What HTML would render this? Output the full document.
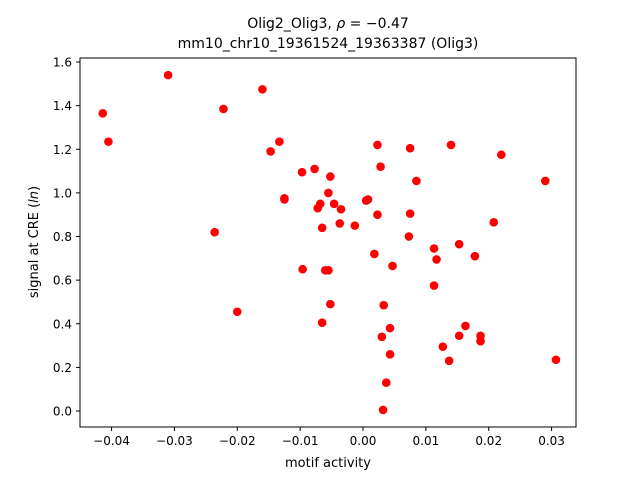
<!DOCTYPE html>
<html><head><meta charset="utf-8"><style>
body{margin:0;background:#fff}
svg text{font-family:"DejaVu Sans","Liberation Sans",sans-serif;fill:#000}
</style></head><body>
<svg id="chart" width="640" height="480" xmlns="http://www.w3.org/2000/svg">
<rect width="640" height="480" fill="#fff"/>
<text x="328" y="28" font-size="14" text-anchor="middle">Olig2_Olig3, <tspan font-style="italic">ρ</tspan> = −0.47</text>
<text x="328" y="48" font-size="14" text-anchor="middle">mm10_chr10_19361524_19363387 (Olig3)</text>
<g id="marks"></g>
<rect x="80" y="58" width="496" height="369" fill="none" stroke="#000" stroke-width="1"/>
<g id="xt"></g><g id="yt"></g>
<text x="328" y="467" font-size="13" text-anchor="middle">motif activity</text>
<text transform="translate(38,242) rotate(-90)" font-size="13" text-anchor="middle">signal at CRE (<tspan font-style="italic">ln</tspan>)</text>
</svg>
<script>
const xVals=[-0.0414,-0.0405,-0.031,-0.0222,-0.016,-0.0133,-0.0147,-0.0125,-0.0125,-0.0236,-0.0200,-0.0097,-0.0077,-0.0052,-0.0072,-0.0068,-0.0046,-0.0035,-0.0055,-0.0065,-0.0037,-0.0013,0.0005,0.0008,-0.0096,-0.006,-0.0055,-0.0052,-0.0065,0.0023,0.0028,0.0023,0.0018,0.0047,0.0033,0.0043,0.003,0.0043,0.0037,0.0032,0.0075,0.0085,0.0075,0.0073,0.014,0.0113,0.0117,0.0113,0.0153,0.0178,0.0163,0.0153,0.0127,0.0137,0.0187,0.0187,0.0220,0.0208,0.029,0.0307];
const yVals=[1.365,1.235,1.54,1.385,1.475,1.235,1.19,0.975,0.97,0.82,0.455,1.095,1.11,1.075,0.93,0.95,0.95,0.925,1.0,0.84,0.86,0.85,0.965,0.97,0.65,0.645,0.645,0.49,0.405,1.22,1.12,0.9,0.72,0.665,0.485,0.38,0.34,0.26,0.13,0.005,1.205,1.055,0.905,0.8,1.22,0.745,0.695,0.575,0.765,0.71,0.39,0.345,0.295,0.23,0.345,0.32,1.175,0.865,1.055,0.235];
const xTicks=[-0.04,-0.03,-0.02,-0.01,0.00,0.01,0.02,0.03];
const xTickLabels=["−0.04","−0.03","−0.02","−0.01","0.00","0.01","0.02","0.03"];
const yTicks=[0,0.2,0.4,0.6,0.8,1.0,1.2,1.4,1.6];
const yTickLabels=["0.0","0.2","0.4","0.6","0.8","1.0","1.2","1.4","1.6"];
const NS="http://www.w3.org/2000/svg";
const X=v=>363+(v-0.0)*6286;
const Y=v=>411-v*218.1;
const marks=document.getElementById('marks');
xVals.forEach((x,i)=>{
  const c=document.createElementNS(NS,'circle');
  c.setAttribute('cx',X(x));c.setAttribute('cy',Y(yVals[i]));c.setAttribute('r',4.3);c.setAttribute('fill','#ff0000');
  
  
  marks.appendChild(c);
});
const xt=document.getElementById('xt');
xTicks.forEach((t,i)=>{
  const l=document.createElementNS(NS,'line');
  l.setAttribute('x1',X(t));l.setAttribute('x2',X(t));l.setAttribute('y1',427);l.setAttribute('y2',431);l.setAttribute('stroke','#000');
  
  
  xt.appendChild(l);
  const s=document.createElementNS(NS,'text');
  s.setAttribute('x',X(t));s.setAttribute('y',445);s.setAttribute('font-size','12');s.setAttribute('text-anchor','middle');
  s.textContent=xTickLabels[i];
  
  
  xt.appendChild(s);
});
const yt=document.getElementById('yt');
yTicks.forEach((t,i)=>{
  const l=document.createElementNS(NS,'line');
  l.setAttribute('x1',76);l.setAttribute('x2',80);l.setAttribute('y1',Y(t));l.setAttribute('y2',Y(t));l.setAttribute('stroke','#000');
  
  
  yt.appendChild(l);
  const s=document.createElementNS(NS,'text');
  s.setAttribute('x',72);s.setAttribute('y',Y(t)+4.5);s.setAttribute('font-size','12');s.setAttribute('text-anchor','end');
  s.textContent=yTickLabels[i];
  
  
  yt.appendChild(s);
});
</script>
</body></html>
